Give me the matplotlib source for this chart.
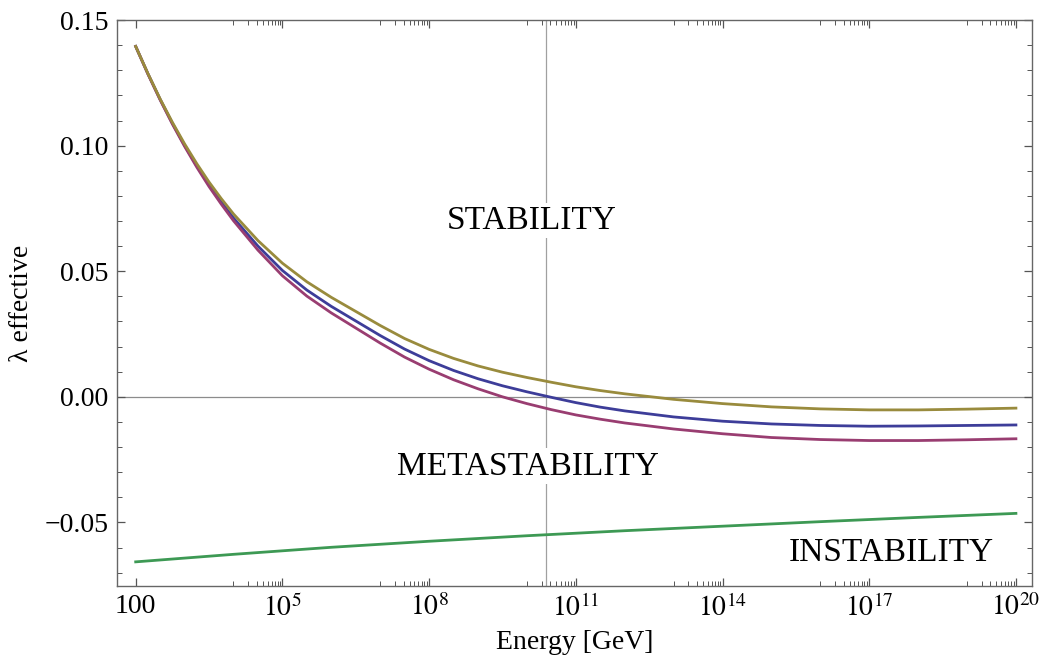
import numpy as np
import matplotlib
matplotlib.use("Agg")
import matplotlib.pyplot as plt
from matplotlib.ticker import FixedLocator, FixedFormatter

plt.rcParams['font.family'] = ['Liberation Serif', 'DejaVu Serif']
plt.rcParams['mathtext.fontset'] = 'stix'

# log10(E / GeV) sampling points
log_e = [2, 2.25, 2.5, 2.75, 3, 3.25, 3.5, 3.75, 4, 4.5, 5, 5.5, 6, 6.5, 7,
         7.5, 8, 8.5, 9, 9.5, 10, 10.5, 11, 11.5, 12, 13, 14, 15, 16, 17,
         18, 19, 20]
lam_gold = [0.1395, 0.1287, 0.1186, 0.1093, 0.1007, 0.0928, 0.0855, 0.0789,
            0.0728, 0.0622, 0.0532, 0.0458, 0.0396, 0.0340, 0.0284, 0.0232,
            0.0189, 0.0153, 0.0123, 0.0098, 0.0077, 0.0058, 0.0040, 0.0025,
            0.0012, -0.0010, -0.0027, -0.0040, -0.0048, -0.0052, -0.0052,
            -0.0049, -0.0045]
lam_blue = [0.1395, 0.1286, 0.1184, 0.1089, 0.1001, 0.0920, 0.0845, 0.0776,
            0.0712, 0.0600, 0.0503, 0.0425, 0.0360, 0.0302, 0.0244, 0.0190,
            0.0144, 0.0105, 0.0072, 0.0044, 0.0020, -0.0002, -0.0023, -0.0041,
            -0.0056, -0.0080, -0.0097, -0.0108, -0.0114, -0.0117, -0.0116,
            -0.0114, -0.0112]
lam_magenta = [0.1395, 0.1285, 0.1182, 0.1086, 0.0997, 0.0914, 0.0837, 0.0767,
               0.0701, 0.0584, 0.0482, 0.0401, 0.0334, 0.0274, 0.0214, 0.0158,
               0.0110, 0.0068, 0.0032, 0.0000, -0.0027, -0.0051, -0.0072,
               -0.0089, -0.0104, -0.0128, -0.0147, -0.0162, -0.0170, -0.0174,
               -0.0174, -0.0171, -0.0167]
log_e_green = [2, 4, 6, 8, 10, 12, 14, 16, 18, 20]
lam_green = [-0.0657, -0.0627, -0.0599, -0.0575, -0.0553, -0.0533, -0.0515,
             -0.0497, -0.0480, -0.0464]

vline_log = 10.4
major_exps = [2, 5, 8, 11, 14, 17, 20]
major_labels = ['100', r'$10^{5}$', r'$10^{8}$', r'$10^{11}$', r'$10^{14}$',
                r'$10^{17}$', r'$10^{20}$']
y_ticks = [-0.05, 0.0, 0.05, 0.10, 0.15]
y_labels = ['\u22120.05', '0.00', '0.05', '0.10', '0.15']

c_blue = (0.24, 0.24, 0.6)
c_mag = (0.6, 0.24, 0.442)
c_gold = (0.6, 0.547, 0.24)
c_green = (0.24, 0.6, 0.33)

fig = plt.figure(figsize=(10.41, 6.61), dpi=100)
ax = fig.add_axes([0.1124, 0.1135, 0.879, 0.8562])

E = lambda l: 10.0 ** np.asarray(l)

ax.axhline(0, color='#8c8c8c', lw=0.9, zorder=1)
ax.axvline(10 ** vline_log, color='#a0a0a0', lw=0.9, zorder=1)

ax.plot(E(log_e), lam_blue, color=c_blue, lw=2.0, zorder=3)
ax.plot(E(log_e), lam_magenta, color=c_mag, lw=2.0, zorder=3)
ax.plot(E(log_e), lam_gold, color=c_gold, lw=2.0, zorder=3)
ax.plot(E(log_e_green), lam_green, color=c_green, lw=2.0, zorder=3)

ax.set_xscale('log')
ax.set_xlim(10 ** 1.618, 10 ** 20.33)
ax.set_ylim(-0.0753, 0.15)

ax.xaxis.set_major_locator(FixedLocator([10.0 ** k for k in major_exps]))
ax.xaxis.set_major_formatter(FixedFormatter(major_labels))
minors = [m * 10.0 ** (k - 1) for k in major_exps[1:] for m in range(1, 10)]
ax.xaxis.set_minor_locator(FixedLocator(minors))
ax.xaxis.set_minor_formatter(FixedFormatter([''] * len(minors)))

ax.yaxis.set_major_locator(FixedLocator(y_ticks))
ax.yaxis.set_major_formatter(FixedFormatter(y_labels))
ax.yaxis.set_minor_locator(FixedLocator([v / 100 for v in range(-7, 15)]))

ax.tick_params(which='both', direction='in', top=True, right=True,
               color='#555555', labelsize=20, labelcolor='black')
ax.tick_params(which='major', length=6, width=0.9, pad=6)
ax.tick_params(which='minor', length=3.5, width=0.7)
for s in ax.spines.values():
    s.set_color('#666666')
    s.set_linewidth(1.0)

ax.set_xlabel('Energy [GeV]', fontsize=20, labelpad=6)
ax.set_ylabel('\u03bb effective', fontsize=20, labelpad=8)

box = dict(facecolor='white', edgecolor='none', pad=2)
ax.text(10 ** 10.09, 0.0702, 'STABILITY', fontsize=24, ha='center', va='center', bbox=box, zorder=4)
ax.text(10 ** 10.03, -0.0277, 'METASTABILITY', fontsize=24, ha='center', va='center', bbox=box, zorder=4)
ax.text(10 ** 17.46, -0.0622, 'INSTABILITY', fontsize=24, ha='center', va='center', bbox=box, zorder=4)

fig.savefig('out.png', dpi=100)
